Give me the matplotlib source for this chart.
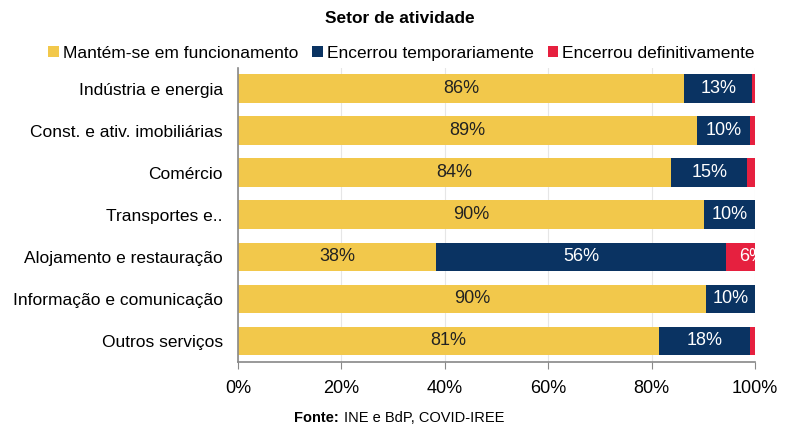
import numpy as np
import matplotlib.pyplot as plt

plt.rcParams["font.family"] = ["Liberation Sans", "DejaVu Sans"]

categories = [
    "Indústria e energia",
    "Const. e ativ. imobiliárias",
    "Comércio",
    "Transportes e..",
    "Alojamento e restauração",
    "Informação e comunicação",
    "Outros serviços",
]
series_names = [
    "Mantém-se em funcionamento",
    "Encerrou temporariamente",
    "Encerrou definitivamente",
]
mantem = [86.3, 88.8, 83.7, 90.1, 38.3, 90.5, 81.4]
temporario = [13.1, 10.2, 14.8, 9.8, 56.0, 9.5, 17.6]
definitivo = [0.6, 1.0, 1.5, 0.1, 5.7, 0.0, 1.0]
labels_mantem = ["86%", "89%", "84%", "90%", "38%", "90%", "81%"]
labels_temp = ["13%", "10%", "15%", "10%", "56%", "10%", "18%"]
labels_def = ["", "", "", "", "6%", "", ""]

colors = ["#F2C84B", "#0A3362", "#E6203F"]
text_colors = ["#222222", "white", "white"]

fig = plt.figure(figsize=(8, 4.33), dpi=100)
ax = fig.add_axes([0.2975, 0.164, 0.6465, 0.68])

y = np.arange(len(categories))
left = np.zeros(len(categories))
for k, (vals, labs, col, tcol, name) in enumerate(zip(
    [mantem, temporario, definitivo],
    [labels_mantem, labels_temp, labels_def],
    colors, text_colors, series_names,
)):
    vals = np.asarray(vals)
    ax.barh(y, vals, left=left, height=0.68, color=col, label=name, zorder=2)
    for yi, (l, v, t) in enumerate(zip(left, vals, labs)):
        if not t:
            continue
        if k == 2:
            # label of the last segment spills over the axis edge and is cut
            ax.text(l + v / 2 - 0.3, yi, t, ha="left", va="center", color=tcol,
                    fontsize=13, zorder=3, clip_on=True)
        else:
            ax.text(l + v / 2, yi, t, ha="center", va="center", color=tcol,
                    fontsize=13, zorder=3, clip_on=True)
    left = left + vals

ax.set_xlim(0, 100)
ax.set_ylim(len(categories) - 0.5, -0.5)
ax.set_yticks(y)
ax.set_yticklabels(categories, fontsize=12.5)
ax.set_xticks(np.arange(0, 101, 20))
ax.set_xticklabels([f"{v}%" for v in range(0, 101, 20)], fontsize=13)
ax.tick_params(axis="y", length=0, pad=11)
ax.tick_params(axis="x", direction="out", length=5, color="#888888", pad=8)
ax.grid(axis="x", color="#e6e6e6", linewidth=0.8, zorder=0)
for side in ["top", "right"]:
    ax.spines[side].set_visible(False)
for side in ["left", "bottom"]:
    ax.spines[side].set_color("#888888")
    ax.spines[side].set_linewidth(1.2)

fig.text(0.5, 0.958, "Setor de atividade", ha="center", va="center",
         fontsize=12.5, fontweight="bold")
fig.legend(loc="center", bbox_to_anchor=(0.502, 0.877), ncol=3, frameon=False,
           fontsize=12.5, handlelength=0.6, handleheight=0.6, handletextpad=0.25,
           columnspacing=0.8)
fig.text(0.368, 0.035, "Fonte:", ha="left", va="center", fontsize=10.5,
         fontweight="bold")
fig.text(0.43, 0.035, "INE e BdP, COVID-IREE", ha="left", va="center",
         fontsize=10.5)

fig.savefig("out.png", dpi=100)
